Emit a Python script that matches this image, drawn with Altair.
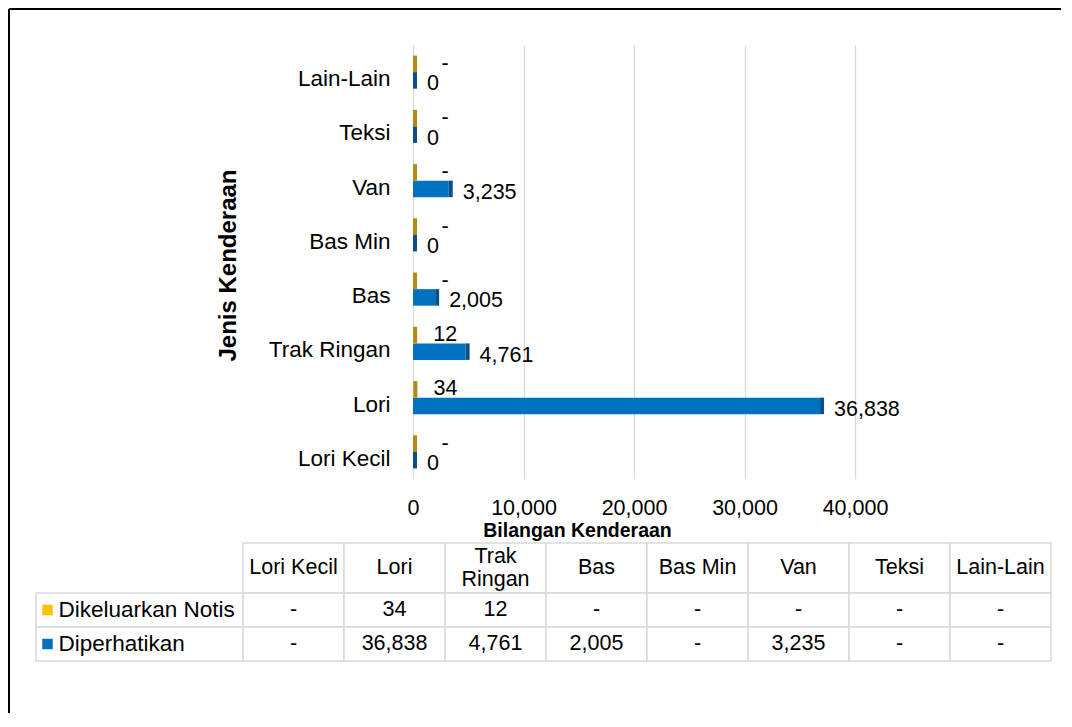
import altair as alt
import pandas as pd

# ---------------- data ----------------
categories = ["Lori Kecil", "Lori", "Trak Ringan", "Bas", "Bas Min", "Van", "Teksi", "Lain-Lain"]
header_labels = ["Lori Kecil", "Lori", "Trak\nRingan", "Bas", "Bas Min", "Van", "Teksi", "Lain-Lain"]
series = ["Dikeluarkan Notis", "Diperhatikan"]
notis = [0, 34, 12, 0, 0, 0, 0, 0]
diperhatikan = [0, 36838, 4761, 2005, 0, 3235, 0, 0]
x_ticks = [0, 10000, 20000, 30000, 40000]

colors = ["#FFC000", "#0070C0"]
side_colors = ["#B38A12", "#0B4F86"]
border = "#D9D9D9"
FONT = "Liberation Sans"
FS = 21.5      # numbers
FST = 22.5     # words

rows = []
for i, c in enumerate(categories):
    for s, vals in zip(series, [notis, diperhatikan]):
        v = vals[i]
        rows.append({
            "cat": c, "series": s, "value": v,
            "chart_label": "-" if (v == 0 and s == series[0]) else f"{v:,}",
            "table_label": "-" if v == 0 else f"{v:,}",
        })
df = pd.DataFrame(rows)

# ---------------- bar chart ----------------
xscale = alt.Scale(domain=[0, 40000], nice=False, zero=True)
yscale = alt.Scale(paddingInner=0.39, paddingOuter=0.195)
yoff_scale = alt.Scale(domain=series, paddingInner=0, paddingOuter=0)

xaxis = alt.Axis(values=x_ticks, format=",.0f", grid=True, gridColor=border, gridWidth=1.2,
                 domain=False, ticks=False, labelPadding=18, labelFontSize=FS,
                 labelColor="black", labelFlush=False,
                 title="Bilangan Kenderaan", titleFontSize=19.5, titleFontWeight="bold",
                 titleColor="black", titleX=164, titleY=51, titleBaseline="middle",
                 titleAlign="center")
yaxis = alt.Axis(title="Jenis Kenderaan", domain=False, ticks=False, labelPadding=23,
                 labelOffset=7, labelFontSize=FST, labelColor="black",
                 titleFontSize=24, titleFontWeight="bold", titleColor="black",
                 titleX=-185, titleY=220, titleBaseline="middle", titleAlign="center")

X = alt.X("value:Q", scale=xscale, axis=xaxis, title="Bilangan Kenderaan")

base = alt.Chart(df).encode(
    y=alt.Y("cat:N", sort=categories[::-1], scale=yscale, axis=yaxis, title="Jenis Kenderaan"),
    yOffset=alt.YOffset("series:N", sort=series, scale=yoff_scale),
)
bars = base.mark_bar().encode(
    x=X,
    color=alt.Color("series:N", scale=alt.Scale(domain=series, range=colors), legend=None),
)
side = base.mark_bar(x2Offset=4).encode(
    x=X,
    x2="value:Q",
    fill=alt.Fill("series:N", scale=alt.Scale(domain=series, range=side_colors), legend=None),
)
lab_gold = base.transform_filter(alt.datum.series == series[0]).mark_text(
    align="center", baseline="middle", dx=32, dy=0, fontSize=FS, color="black"
).encode(x=X, text="chart_label:N")
lab_blue = base.transform_filter(alt.datum.series == series[1]).mark_text(
    align="left", baseline="middle", dx=14, dy=4, fontSize=FS, color="black"
).encode(x=X, text="chart_label:N")

chart_group = alt.layer(bars, side, lab_gold, lab_blue)

# ---------------- frame ----------------
frame_df = pd.DataFrame({"k": [0]})
frame_left = alt.Chart(frame_df).mark_rule(color="black", strokeWidth=2).encode(
    x=alt.value(-404), y=alt.value(-36), y2=alt.value(668))
frame_top = alt.Chart(frame_df).mark_rule(color="black", strokeWidth=2).encode(
    x=alt.value(-404), x2=alt.value(648), y=alt.value(-36))

# ---------------- data table ----------------
tx = alt.Scale(domain=categories, range=[-170, 638], paddingInner=0, paddingOuter=0)
ty_head = alt.Scale(domain=["header"], range=[498, 548], paddingInner=0, paddingOuter=0)
ty_rows = alt.Scale(domain=series, range=[548, 616], paddingInner=0, paddingOuter=0)
tleg = alt.Scale(domain=["legend"], range=[-377, -170], paddingInner=0, paddingOuter=0)

header_df = pd.DataFrame({"cat": categories, "head": header_labels, "row": ["header"] * len(categories)})
legend_df = pd.DataFrame({"series": series, "col": ["legend"] * len(series)})

hx = alt.X("cat:N", scale=tx, axis=None)
hy = alt.Y("row:N", scale=ty_head, axis=None)
header_rect = alt.Chart(header_df).mark_rect(fill="white", stroke=border, strokeWidth=1.5).encode(x=hx, y=hy)
header_text1 = alt.Chart(header_df).transform_filter(
    "indexof(datum.head, '\\n') < 0").mark_text(
    fontSize=FS, baseline="middle", color="black").encode(x=hx, y=hy, text="head:N")
header_text2 = alt.Chart(header_df).transform_filter(
    "indexof(datum.head, '\\n') >= 0").mark_text(
    lineBreak="\n", fontSize=FS, lineHeight=23, baseline="middle", dy=-11.5,
    color="black").encode(x=hx, y=hy, text="head:N")

body_rect = alt.Chart(df).mark_rect(fill="white", stroke=border, strokeWidth=1.5).encode(
    x=alt.X("cat:N", scale=tx, axis=None), y=alt.Y("series:N", scale=ty_rows, axis=None))
body_text = alt.Chart(df).mark_text(fontSize=FS, baseline="middle", color="black").encode(
    x=alt.X("cat:N", scale=tx, axis=None), y=alt.Y("series:N", scale=ty_rows, axis=None),
    text="table_label:N")
legend_rect = alt.Chart(legend_df).mark_rect(fill="white", stroke=border, strokeWidth=1.5).encode(
    x=alt.X("col:N", scale=tleg, axis=None), y=alt.Y("series:N", scale=ty_rows, axis=None))
legend_sq = alt.Chart(legend_df).mark_square(size=110, opacity=1, xOffset=-92).encode(
    x=alt.X("col:N", scale=tleg, axis=None),
    y=alt.Y("series:N", scale=ty_rows, axis=None),
    color=alt.Color("series:N", scale=alt.Scale(domain=series, range=colors), legend=None))
legend_text = alt.Chart(legend_df).mark_text(align="left", baseline="middle", dx=-81,
                                             fontSize=FST, color="black").encode(
    x=alt.X("col:N", scale=tleg, axis=None),
    y=alt.Y("series:N", scale=ty_rows, axis=None), text="series:N")

chart = alt.layer(
    chart_group, frame_left, frame_top,
    header_rect, header_text1, header_text2, body_rect, body_text,
    legend_rect, legend_sq, legend_text,
).resolve_scale(
    x="independent", y="independent", color="independent", fill="independent"
).properties(
    width=442, height=434, padding=0, background="white"
).configure(font=FONT).configure_view(stroke=None)

chart.save("out.html", embed_options={"renderer": "svg", "actions": False})
